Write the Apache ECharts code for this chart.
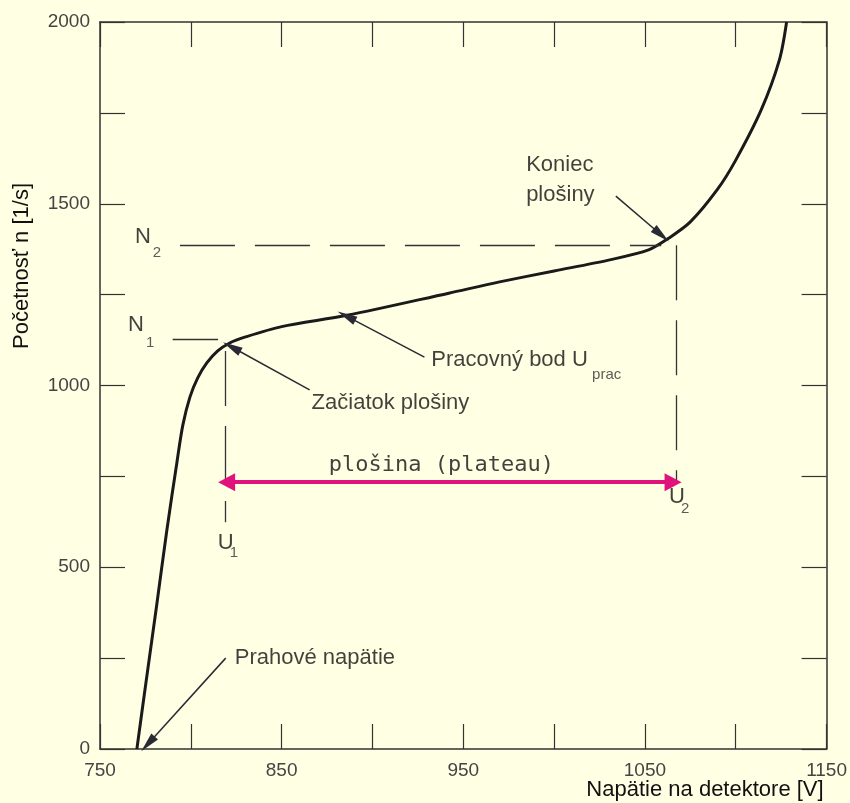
<!DOCTYPE html>
<html>
<head>
<meta charset="utf-8">
<script src="https://cdn.jsdelivr.net/npm/echarts@6/dist/echarts.min.js"></script>
<style>
  html, body { margin: 0; padding: 0; background: #FFFFE4; }
  #chart { width: 850px; height: 803px; }
</style>
</head>
<body>
<div id="chart"></div>
<script>
// krivka pocitadla: napatie [V] a pocetnost [1/s]
var voltage = [770.3, 775.8, 781.3, 786.8, 792.3, 795.6, 799.5, 803.8, 808.8, 814.8, 821.4, 829.7, 850, 886, 942, 970, 1000, 1030, 1052, 1063, 1075, 1090, 1100, 1114, 1124, 1128];
var counts  = [0, 201, 399, 602, 787, 891, 968, 1021, 1062, 1095, 1117, 1133, 1162, 1193, 1254, 1285, 1315, 1345, 1373, 1405, 1450, 1540, 1620, 1758, 1895, 2000];

// osi
var xMin = 750, xMax = 1150, xStep = 50, xLabelStep = 100;
var yMin = 0, yMax = 2000, yStep = 250, yLabelStep = 500;

// charakteristicke body
var U1 = 818.7, U2 = 1067.5, N1 = 1128, N2 = 1386;
var plateauY = 734;

// popisy (x, y, text)
var noteX    = [984.6, 984.6, 932.4, 866.5, 824.2, 769.2, 765.4, 814.8, 1063.2];
var noteY    = [1607, 1524, 1070, 952, 250, 1408, 1166, 567, 693];
var noteText = ['Koniec', 'plošiny', 'Pracovný bod U', 'Začiatok plošiny', 'Prahové napätie', 'N', 'N', 'U', 'U'];

var subX    = [1020.9, 779.1, 775.3, 821.4, 1069.8];
var subY    = [1029, 1364, 1117, 540, 660];
var subText = ['prac', '2', '1', '1', '2'];

// sipky k popisom: [od, do]
var arrowFrom = [[1034, 1521], [928.6, 1078], [865.4, 988], [819.2, 250]];
var arrowTo   = [[1059, 1414], [885.7, 1191], [822.5, 1106], [776.4, 14]];

var chart = echarts.init(document.getElementById('chart'));

var curve = voltage.map(function (v, i) { return [v, counts[i]]; });
var notes = noteX.map(function (v, i) { return [v, noteY[i], noteText[i]]; });
var subs = subX.map(function (v, i) { return [v, subY[i], subText[i]]; });

var dash = { color: '#333', width: 1.3, type: [55, 20] };
var arrowLines = arrowFrom.map(function (a, i) {
    return [{ coord: a }, { coord: arrowTo[i] }];
});

var axisLine = { show: true, onZero: false, lineStyle: { color: '#333', width: 1.5 } };
var tick = { show: true, inside: true, length: 25, lineStyle: { color: '#333', width: 1.2 } };
var font = 'Liberation Sans, Arial, sans-serif';

var option = {
    backgroundColor: '#FFFFE4',
    animation: false,
    grid: { left: 100, right: 22, top: 22, bottom: 54 },
    xAxis: [
        {
            type: 'value', position: 'bottom', min: xMin, max: xMax, interval: xStep,
            axisLine: axisLine, axisTick: tick, splitLine: { show: false },
            axisLabel: {
                margin: 12, color: '#444', fontSize: 19, fontFamily: font,
                formatter: function (v) { return v % xLabelStep === 50 ? v : ''; }
            }
        },
        {
            type: 'value', position: 'top', min: xMin, max: xMax, interval: xStep,
            axisLine: axisLine, axisTick: tick, splitLine: { show: false },
            axisLabel: { show: false }
        }
    ],
    yAxis: [
        {
            type: 'value', position: 'left', min: yMin, max: yMax, interval: yStep,
            axisLine: axisLine, axisTick: tick, splitLine: { show: false },
            axisLabel: {
                margin: 10, color: '#444', fontSize: 19, fontFamily: font,
                formatter: function (v) { return v % yLabelStep === 0 ? v : ''; }
            }
        },
        {
            type: 'value', position: 'right', min: yMin, max: yMax, interval: yStep,
            axisLine: axisLine, axisTick: tick, splitLine: { show: false },
            axisLabel: { show: false }
        }
    ],
    graphic: [
        {
            type: 'text', x: 22, y: 266, rotation: Math.PI / 2,
            style: { text: 'Početnosť n [1/s]', fill: '#111', font: '22px ' + font, align: 'center', verticalAlign: 'middle' }
        },
        {
            type: 'text', x: 705, y: 790,
            style: { text: 'Napätie na detektore [V]', fill: '#111', font: '22px ' + font, align: 'center', verticalAlign: 'middle' }
        }
    ],
    series: [
        {
            type: 'line',
            data: curve,
            smooth: 0.3,
            showSymbol: false,
            lineStyle: { color: '#1a1a1a', width: 3 },
            markLine: {
                silent: true,
                symbol: 'none',
                label: { show: false },
                data: [
                    [{ coord: [794, N2], lineStyle: dash }, { coord: [1059, N2] }],
                    [{ coord: [790, N1], lineStyle: dash }, { coord: [815, N1] }],
                    [{ coord: [U1, 1095], lineStyle: dash }, { coord: [U1, 624] }],
                    [{ coord: [U2, 1386], lineStyle: dash }, { coord: [U2, 737] }]
                ]
            }
        },
        {
            // sipky k popisom
            type: 'line', data: [],
            markLine: {
                silent: true,
                symbol: ['none', 'triangle'],
                symbolSize: [9, 20],
                label: { show: false },
                lineStyle: { color: '#2a2a35', width: 1.5, type: 'solid' },
                data: arrowLines
            }
        },
        {
            // plosina
            type: 'line', data: [],
            markLine: {
                silent: true,
                symbol: ['triangle', 'triangle'],
                symbolSize: [18, 17],
                label: { show: false },
                lineStyle: { color: '#E0137D', width: 4, type: 'solid' },
                data: [[{ coord: [U1 + 1, plateauY] }, { coord: [U2 - 2, plateauY] }]]
            }
        },
        {
            type: 'scatter', data: [[937.9, 781, 'plošina (plateau)']],
            symbolSize: 0, itemStyle: { color: 'transparent' },
            label: {
                show: true, position: 'inside', color: '#111', fontSize: 22,
                fontFamily: 'DejaVu Sans Mono, monospace',
                formatter: function (p) { return p.data[2]; }
            }
        },
        {
            type: 'scatter', data: notes,
            symbolSize: 0, itemStyle: { color: 'transparent' },
            label: {
                show: true, position: 'right', distance: 0, color: '#111', fontSize: 22,
                fontFamily: font,
                formatter: function (p) { return p.data[2]; }
            }
        },
        {
            type: 'scatter', data: subs,
            symbolSize: 0, itemStyle: { color: 'transparent' },
            label: {
                show: true, position: 'right', distance: 0, color: '#333', fontSize: 15,
                fontFamily: font,
                formatter: function (p) { return p.data[2]; }
            }
        }
    ]
};

chart.setOption(option);
</script>
</body>
</html>
